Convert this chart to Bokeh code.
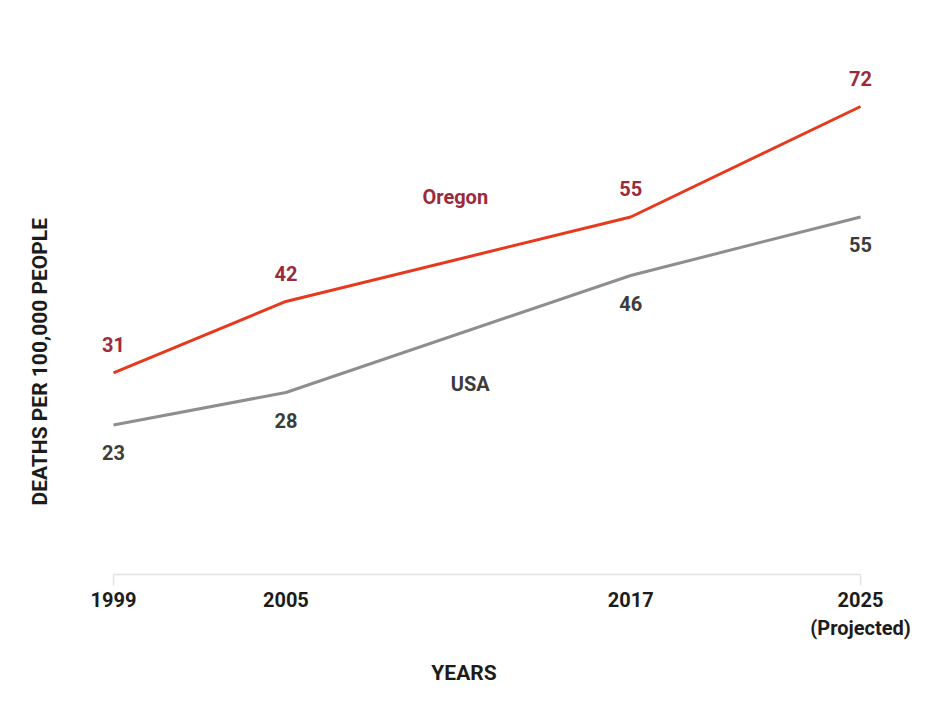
from bokeh.plotting import figure
from bokeh.models import Range1d, Title, FixedTicker, ColumnDataSource
from bokeh.core.properties import value
from bokeh.embed import file_html
from bokeh.resources import INLINE

years = [1999, 2005, 2017, 2025]
tick_labels = ["1999", "2005", "2017", "2025\n(Projected)"]
oregon = [31, 42, 55, 72]
usa = [23, 28, 46, 55]
series_names = ["Oregon", "USA"]
x_title = "YEARS"
y_title = "DEATHS PER 100,000 PEOPLE"

FONT = "Roboto"
OR_LINE = "#e6391e"
OR_TEXT = "#9b2b3b"
US_LINE = "#8e8e8e"
US_TEXT = "#3c3c3c"
AX_TEXT = "#1c1c1c"

p = figure(width=915, height=697, output_backend="svg", toolbar_location=None,
           x_range=Range1d(1996.877, 2025.52), y_range=Range1d(-1.85, 83.69),
           min_border_left=52, min_border_right=40, min_border_top=30,
           min_border_bottom=111)
p.xgrid.visible = False
p.ygrid.visible = False
p.outline_line_color = None
p.yaxis.visible = False

ax = p.xaxis[0]
ax.ticker = FixedTicker(ticks=years)
ax.major_label_overrides = {y: t for y, t in zip(years, tick_labels)}
ax.axis_line_color = None
ax.major_tick_line_color = None
ax.minor_tick_line_color = None
ax.major_tick_out = 0
ax.major_tick_in = 0
ax.major_label_standoff = 1
ax.major_label_text_font = FONT
ax.major_label_text_font_style = "bold"
ax.major_label_text_font_size = "20px"
ax.major_label_text_color = AX_TEXT
ax.axis_label = x_title
ax.axis_label_standoff = 18
ax.axis_label_text_font = FONT
ax.axis_label_text_font_style = "bold"
ax.axis_label_text_font_size = "21px"
ax.axis_label_text_color = AX_TEXT

# baseline bracket along y = 0
p.segment(x0=[years[0]], y0=[0], x1=[years[-1]], y1=[0], line_color="#e2e2e2", line_width=1.5)
p.segment(x0=[years[0], years[-1]], y0=[0, 0], x1=[years[0], years[-1]], y1=[-1.7, -1.7],
          line_color="#e2e2e2", line_width=1.5)

p.line(years, usa, line_color=US_LINE, line_width=3)
p.line(years, oregon, line_color=OR_LINE, line_width=3)

src_or = ColumnDataSource(dict(x=years, y=oregon, t=[str(v) for v in oregon]))
src_us = ColumnDataSource(dict(x=years, y=usa, t=[str(v) for v in usa]))
p.text(x="x", y="y", text="t", source=src_or, y_offset=-28, text_align="center",
       text_baseline="middle", text_font=value(FONT), text_font_style="bold",
       text_font_size="20px", text_color=OR_TEXT)
p.text(x="x", y="y", text="t", source=src_us, y_offset=28, text_align="center",
       text_baseline="middle", text_font=value(FONT), text_font_style="bold",
       text_font_size="20px", text_color=US_TEXT)

# series name labels, anchored midway between 2005 and 2017
mid_x = (years[1] + years[2]) / 2
or_mid = (oregon[1] + oregon[2]) / 2
us_mid = (usa[1] + usa[2]) / 2
p.text(x=[mid_x], y=[or_mid], text=[series_names[0]], x_offset=-3, y_offset=-62,
       text_align="center", text_baseline="middle", text_font=value(FONT),
       text_font_style="bold", text_font_size="20px", text_color=OR_TEXT)
p.text(x=[mid_x], y=[us_mid], text=[series_names[1]], x_offset=12, y_offset=50,
       text_align="center", text_baseline="middle", text_font=value(FONT),
       text_font_style="bold", text_font_size="20px", text_color=US_TEXT)

p.add_layout(Title(text=y_title, align="left", offset=81, standoff=1, text_font=FONT,
                   text_font_style="bold", text_font_size="21px",
                   text_color=AX_TEXT), "left")

open("out.html", "w").write(file_html(p, INLINE))
